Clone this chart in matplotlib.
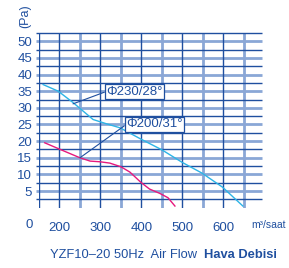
import matplotlib.pyplot as plt
import numpy as np

plt.rcParams['font.family'] = ['Liberation Sans', 'DejaVu Sans']

#### curve data (air flow m3/h vs pressure Pa)
flow_230 = [160, 197, 233, 258, 282, 315, 348, 399, 450, 500, 548, 598, 648]
pres_230 = [37.0, 35.0, 31.6, 29.0, 26.5, 25.2, 24.0, 20.6, 17.4, 13.6, 10.4, 6.2, 0.5]

flow_200 = [164, 200, 250, 275, 299, 323, 350, 372, 399, 420, 445, 465, 482]
pres_200 = [19.5, 17.6, 15.0, 14.0, 13.8, 13.4, 12.3, 10.7, 7.6, 5.6, 4.3, 3.0, 0.5]

label_230 = 'Φ230/28°'
label_200 = 'Φ200/31°'

x_ticks = [200, 300, 400, 500, 600]
y_ticks = [5, 10, 15, 20, 25, 30, 35, 40, 45, 50]

dark = '#1f4f9f'
light = '#8aa7d6'
cyan = '#2db4e6'
pink = '#e6197d'

fig = plt.figure(figsize=(2.89, 2.68), dpi=100)
ax = fig.add_axes([0.135, 0.225, 0.772, 0.652])
ax.set_xlim(150, 695)
ax.set_ylim(0, 52.5)

# grid: light thick at every 5 Pa / odd 50 m3/h, dark thin in between
for y in np.arange(2.5, 53, 2.5):
    if abs(y % 5) < 1e-6:
        ax.hlines(y, 143, 695, color=light, lw=2.0, clip_on=False, zorder=1)
    else:
        ax.hlines(y, 143, 695, color=dark, lw=1.0, clip_on=False, zorder=2)
for x in range(150, 651, 50):
    if x % 100 == 0 or x == 150:
        ax.vlines(x, 0, 52.5, color=dark, lw=1.0, zorder=2)
    else:
        ax.vlines(x, 0, 52.5, color=light, lw=2.0, zorder=1)

ax.plot(flow_230, pres_230, color=cyan, lw=1.0, zorder=3)
ax.plot(flow_200, pres_200, color=pink, lw=1.0, zorder=3)

box = dict(boxstyle='square,pad=0.12', fc='white', ec=dark, lw=0.9)
ax.annotate(label_230, xy=(233, 31.2), xytext=(314, 34.9), fontsize=9.5, color=dark,
            ha='left', va='center', bbox=box, zorder=5,
            arrowprops=dict(arrowstyle='-', color=dark, lw=0.8, relpos=(0, 0.5),
                            shrinkA=0, shrinkB=0))
ax.annotate(label_200, xy=(250, 15.0), xytext=(363, 25.0), fontsize=9.5, color=dark,
            ha='left', va='center', bbox=box, zorder=5,
            arrowprops=dict(arrowstyle='-', color=dark, lw=0.8, relpos=(0, 0.5),
                            shrinkA=0, shrinkB=0))

for s in ax.spines.values():
    s.set_visible(False)
ax.set_xticks(x_ticks)
ax.set_yticks(y_ticks)
ax.tick_params(axis='x', length=0, pad=10, labelsize=9.5, labelcolor=dark)
ax.tick_params(axis='y', length=0, pad=5, labelsize=9.5, labelcolor=dark)

ax.text(-0.045, -0.10, '0', transform=ax.transAxes, ha='center', va='center',
        fontsize=9.5, color=dark)
ax.text(1.03, -0.10, 'm³/saat', transform=ax.transAxes, ha='center', va='center',
        fontsize=7.5, color=dark)
fig.text(25 / 289, 1 - 16 / 268, '(Pa)', rotation=90, ha='center', va='center',
         fontsize=9, color=dark)

fig.text(50 / 289, 1 - 255 / 268, 'YZF10–20 50Hz  Air Flow', ha='left', va='center',
         fontsize=9.3, color=dark)
fig.text(277 / 289, 1 - 255 / 268, 'Hava Debisi', ha='right', va='center',
         fontsize=9.3, color=dark, weight='bold')

fig.savefig('out.png', dpi=100)
